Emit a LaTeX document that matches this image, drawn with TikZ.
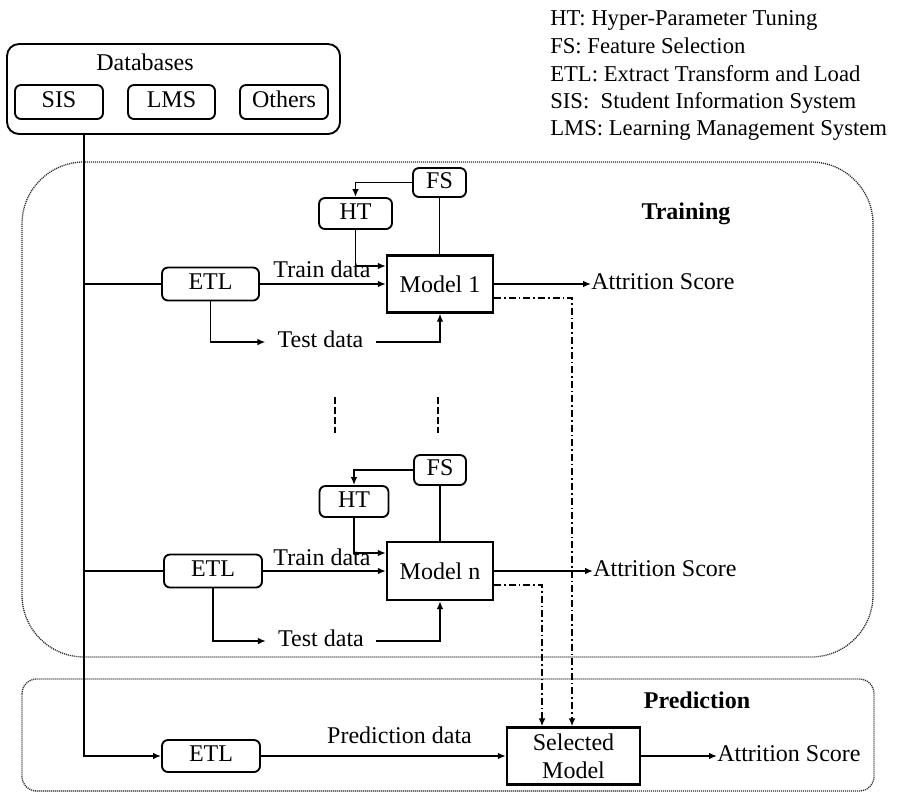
\documentclass[tikz,border=0pt]{standalone}
\usepackage{fontspec}
\setmainfont{Liberation Serif}
\usetikzlibrary{arrows.meta,calc}

\begin{document}
\begin{tikzpicture}[x=0.75pt,y=-0.75pt,
  every node/.style={font=\fontsize{18}{21}\selectfont},
  legend/.style={anchor=base west, inner sep=0pt, font=\fontsize{17}{20.4}\selectfont},
  txt/.style={inner sep=0pt, text height=12pt, text depth=3.7pt},
  rbox/.style={draw, line width=1.4pt, rounded corners=4.5pt, inner sep=0pt,
               text height=12pt, text depth=3.7pt},
  mbox/.style={draw, line width=1.7pt, inner sep=0pt},
  conn/.style={line width=1.35pt},
  arr/.style={conn, -{Latex[length=6pt,width=5pt]}},
  dashdot/.style={line width=1.35pt, dash pattern=on 5.25pt off 2.25pt on 1.2pt off 2.25pt,
                  -{Latex[length=6pt,width=5pt]}},
  gapmark/.style={line width=1.35pt, dash pattern=on 5pt off 2.5pt},
  region/.style={line width=1pt, black!85, dash pattern=on 0.8pt off 0.7pt},
  heading/.style={txt, font=\fontsize{18}{21}\selectfont\bfseries}
]
\useasboundingbox (0,0) rectangle (898,793);

% abbreviations
\node[legend] (legHT)  at (550,25)  {HT: Hyper-Parameter Tuning};
\node[legend] (legFS)  at (550,53)  {FS: Feature Selection};
\node[legend] (legETL) at (550,81)  {ETL: Extract Transform and Load};
\node[legend] (legSIS) at (550,108) {SIS: \ Student Information System};
\node[legend] (legLMS) at (550,135) {LMS: Learning Management System};

% data sources
\node[draw, line width=1.4pt, rounded corners=9pt, minimum width=249.75pt,
      minimum height=67.5pt, inner sep=0pt] (db) at (173.5,89) {};
\node[txt] (dbname) at (145,65) {Databases};
\node[rbox, minimum width=66pt, minimum height=25.5pt] (sis) at (59,102) {SIS};
\node[rbox, minimum width=65.25pt, minimum height=25.5pt] (lms) at (171.5,102) {LMS};
\node[rbox, minimum width=66pt, minimum height=25.5pt] (oth) at (284,102) {Others};

% stage regions
\draw[region, rounded corners=46.5pt] (22,162) rectangle (873,657);
\draw[region, rounded corners=11pt] (22,679) rectangle (874,791);
\node[heading] (trainlbl) at (686,214) {Training};
\node[heading] (predlbl) at (697,703) {Prediction};

% first model
\node[rbox, minimum width=72.75pt, minimum height=24.75pt] (etlA) at (210.5,284) {ETL};
\node[mbox, minimum width=79.5pt, minimum height=42.75pt] (modA) at (440,284) {Model 1};
\node[rbox, minimum width=39.75pt, minimum height=21.75pt] (fsA) at (439.5,182.5) {FS};
\node[rbox, minimum width=54.75pt, minimum height=23.25pt] (htA) at (355.5,213.5) {HT};
\node[txt, inner xsep=9pt] (testA) at (320.5,342) {Test data};
\node[txt, anchor=west] (scoreA) at (591,284) {Attrition Score};
\node[txt] (trainA) at (322,272) {Train data};

% last model
\node[rbox, minimum width=73.5pt, minimum height=24.75pt] (etlB) at (213,571) {ETL};
\node[mbox, minimum width=79.5pt, minimum height=43.5pt] (modB) at (440,571) {Model n};
\node[rbox, minimum width=39pt, minimum height=22.5pt] (fsB) at (440,470) {FS};
\node[rbox, minimum width=51.75pt, minimum height=23.25pt] (htB) at (354,501.5) {HT};
\node[txt, inner xsep=9pt] (testB) at (321,641) {Test data};
\node[txt, anchor=west] (scoreB) at (593,571) {Attrition Score};
\node[txt] (trainB) at (322,560) {Train data};

% prediction stage
\node[rbox, minimum width=73.5pt, minimum height=24pt] (etlC) at (211,756) {ETL};
\node[mbox, minimum width=99.75pt, minimum height=42.75pt, align=center] (selm) at (573.5,756) {Selected\\Model};
\node[txt] (predData) at (399.5,738) {Prediction data};
\node[txt, anchor=west] (scoreC) at (717,756) {Attrition Score};

% trunk from the databases
\path (db.south) ++(-89.5,0) coordinate (trunk);
\draw[arr] (trunk) |- (etlC.west);
\draw[conn] (trunk |- etlA.west) -- (etlA.west);
\draw[conn] (trunk |- etlB.west) -- (etlB.west);

% first model connectors
\draw[arr] (etlA.east) -- (modA.west);
\draw[arr] (etlA.south) |- (testA.west);
\draw[arr] (testA.east) -| (modA.south);
\draw[arr] (fsA.west) -| (htA.north);
\draw[arr] (htA.south) |- ([yshift=13.5pt]modA.west);
\draw[conn] (fsA.south) -- (fsA.south |- modA.north);
\draw[arr] (modA.east) -- (scoreA.west);

% last model connectors
\draw[arr] (etlB.east) -- (modB.west);
\draw[arr] (etlB.south) |- (testB.west);
\draw[arr] (testB.east) -| (modB.south);
\draw[arr] (fsB.west) -| (htB.north);
\draw[arr] (htB.south) |- ([yshift=13.5pt]modB.west);
\draw[conn] (fsB.south) -- (fsB.south |- modB.north);
\draw[arr] (modB.east) -- (scoreB.west);

% elided models
\draw[gapmark] (335,397) -- (335,433);
\draw[gapmark] (438,397) -- (438,433);

% model selection
\draw[dashdot] ([yshift=-10.5pt]modA.east) -| ([xshift=-1.1pt]selm.north);
\draw[dashdot] ([yshift=-10.5pt]modB.east) -| ([xshift=-23.6pt]selm.north);

% prediction connectors
\draw[arr] (etlC.east) -- (selm.west);
\draw[arr] (selm.east) -- (scoreC.west);
\end{tikzpicture}
\end{document}
